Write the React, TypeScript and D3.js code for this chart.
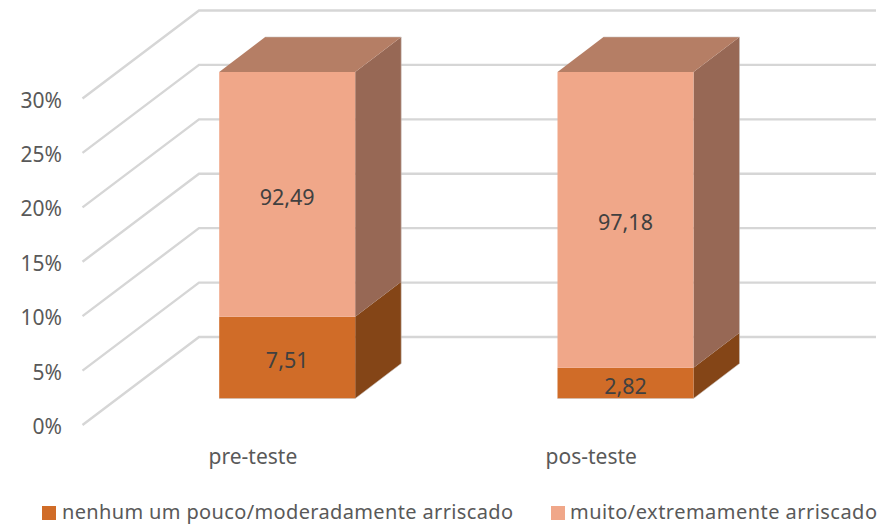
import React from "react";
import * as d3 from "d3";

const categories = ["pre-teste", "pos-teste"];
const seriesNames = ["nenhum um pouco/moderadamente arriscado", "muito/extremamente arriscado"];
const lowValues = [7.51, 2.82];
const highValues = [92.49, 97.18];
const lowLabels = ["7,51", "2,82"];
const highLabels = ["92,49", "97,18"];
const yTicks = [0, 5, 10, 15, 20, 25, 30];

const FONT = "'Noto Sans', sans-serif";
const TEXT = "#595959";
const GRID = "#d6d6d6";
const DX = 46;
const DY = 35;

const barCenter = d3.scalePoint().domain(categories).range([287.2, 625.5]);
const BAR_W = 136;
// all three planes share the 0–30 axis; the stacked bars run past it and are clipped at the top
const yFront = d3.scaleLinear().domain([0, 30]).range([425, 98.5]);
const yBack = d3.scaleLinear().domain([0, 30]).range([337, 10.5]);
const yBar = d3.scaleLinear().domain([0, 30]).range([398.5, 72]).clamp(true);

const colors = [
  { front: "#D06C28", side: "#844517", top: "#A8591F" },
  { front: "#F0A789", side: "#976855", top: "#B57E65" },
];

const pts = (a: number[][]) => a.map((p) => p.join(",")).join(" ");

function Bar({ cat, i }: { cat: string; i: number }) {
  const cx = barCenter(cat) as number;
  const x0 = cx - BAR_W / 2;
  const x1 = cx + BAR_W / 2;
  const stack = [
    { v0: 0, v1: lowValues[i], label: lowLabels[i] },
    { v0: lowValues[i], v1: lowValues[i] + highValues[i], label: highLabels[i] },
  ];
  const topY = yBar(stack[1].v1);
  return (
    <g>
      {stack.map((s, k) => {
        const yb = yBar(s.v0);
        const yt = yBar(s.v1);
        return (
          <g key={k}>
            <polygon
              points={pts([[x1, yb], [x1 + DX, yb - DY], [x1 + DX, yt - DY], [x1, yt]])}
              fill={colors[k].side}
            />
            <rect x={x0} y={yt} width={BAR_W} height={yb - yt} fill={colors[k].front} />
          </g>
        );
      })}
      <polygon
        points={pts([[x0, topY], [x0 + DX, topY - DY], [x1 + DX, topY - DY], [x1, topY]])}
        fill={colors[1].top}
      />
      <polyline
        points={pts([[x0, yBar(0)], [x1, yBar(0)], [x1 + DX, yBar(0) - DY], [x1 + DX, topY - DY], [x0 + DX, topY - DY]])}
        fill="none"
        stroke="#c9c0ba"
        strokeWidth={0.8}
        opacity={0.7}
      />
      {stack.map((s, k) => (
        <text
          key={k}
          x={cx}
          y={(yBar(s.v0) + yBar(s.v1)) / 2 + 10.5}
          textAnchor="middle"
          fontFamily={FONT}
          fontSize={21.5}
          fill="#404040"
        >
          {s.label}
        </text>
      ))}
    </g>
  );
}

export default function App() {
  return (
    <svg
      width={886}
      height={524}
      viewBox="0 0 886 524"
      style={{ position: "absolute", left: 0, top: 0, background: "#fff" }}
    >
      {yTicks.map((t) => (
        <g key={t}>
          <polyline
            points={pts([[82.5, yFront(t)], [199, yBack(t)], [876, yBack(t)]])}
            fill="none"
            stroke={GRID}
            strokeWidth={2.4}
          />
          <text
            x={62}
            y={yFront(t) + 9}
            textAnchor="end"
            fontFamily={FONT}
            fontSize={21}
            fill={TEXT}
          >
            {t}%
          </text>
        </g>
      ))}
      {categories.map((c, i) => (
        <Bar key={c} cat={c} i={i} />
      ))}
      {categories.map((c) => (
        <text
          key={c}
          x={(barCenter(c) as number) - 34.3}
          y={463.5}
          textAnchor="middle"
          fontFamily={FONT}
          fontSize={21}
          fill={TEXT}
        >
          {c}
        </text>
      ))}
      <rect x={42} y={506} width={14} height={14} fill={colors[0].front} />
      <text x={62} y={518.5} fontFamily={FONT} fontSize={20} fill={TEXT} textLength={451} lengthAdjust="spacing">
        {seriesNames[0]}
      </text>
      <rect x={551} y={506} width={14} height={14} fill={colors[1].front} />
      <text x={570} y={518.5} fontFamily={FONT} fontSize={20} fill={TEXT} textLength={307} lengthAdjust="spacing">
        {seriesNames[1]}
      </text>
    </svg>
  );
}
